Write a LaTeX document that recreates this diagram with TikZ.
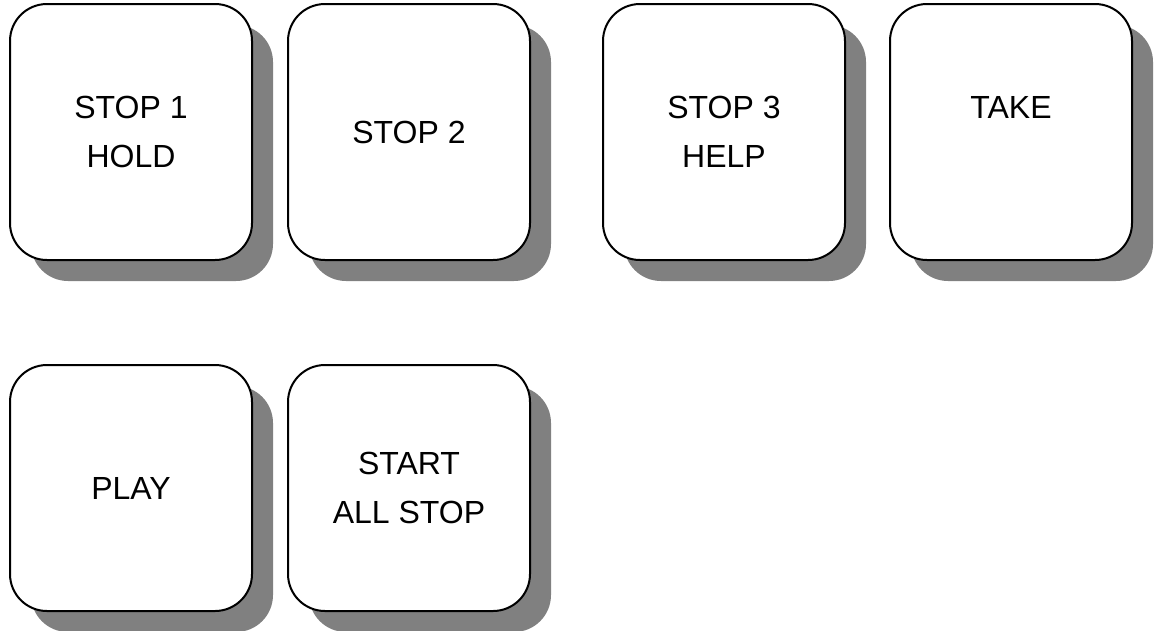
\documentclass[tikz,border=0pt]{standalone}
\usepackage{fontspec}
\setmainfont{Liberation Sans}
\usetikzlibrary{shadows}

\tikzset{
    key/.style={draw, line width=2pt, fill=white, rounded corners=37pt,
        minimum width=242pt, minimum height=256pt, align=center,
        font=\fontsize{32}{49}\selectfont,
        drop shadow={shadow xshift=21pt, shadow yshift=-21pt,
            fill=black!50, opacity=1}},
    lowkey/.style={key, minimum height=246pt}
}

\begin{document}
\begin{tikzpicture}[x=1pt, y=-1pt]
    \useasboundingbox (0,0) rectangle (1158,630);

    \node[key] (stop1) at (131,132) {STOP 1\\HOLD};
    \node[key] (stop2) at (409,132) {STOP 2};
    \node[key] (stop3) at (724,132) {STOP 3\\HELP};
    \node[key] (take) at (1011,132) {TAKE\\\mbox{}};

    \node[lowkey] (play) at (131,488) {PLAY};
    \node[lowkey] (start) at (409,488) {START\\ALL STOP};
\end{tikzpicture}
\end{document}
